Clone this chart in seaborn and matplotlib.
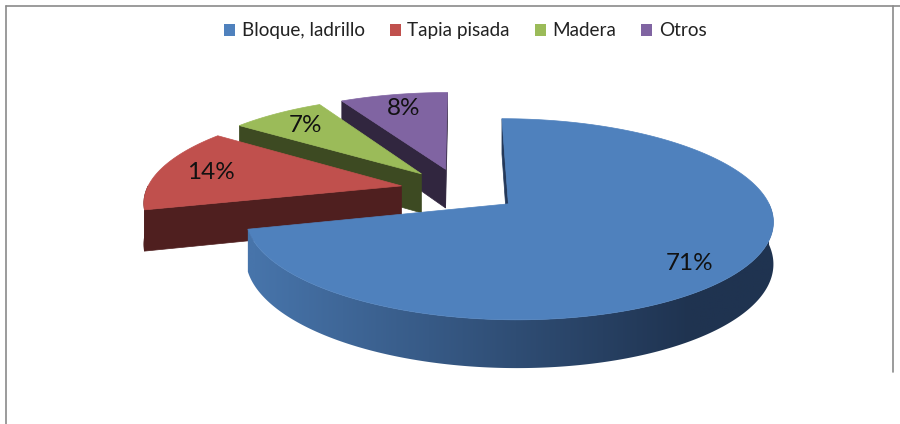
import numpy as np
import matplotlib
matplotlib.use("Agg")
import matplotlib.pyplot as plt
from matplotlib.patches import Polygon, Patch
from matplotlib.colors import to_rgb
import seaborn as sns

# ---- data ----
categories = ["Bloque, ladrillo", "Tapia pisada", "Madera", "Otros"]
values = [71, 14, 7, 8]
top_colors = ["#4f81bd", "#c0504d", "#9bbb59", "#8064a2"]
wall_colors = ["#24395a", "#4f1f1f", "#3d4a22", "#31263f"]

sns.set_theme(style="white")
plt.rcParams["font.family"] = ["Lato", "DejaVu Sans"]
palette = sns.color_palette(top_colors)

# ---- projection parameters (layout) ----
CX, CY = 460.0, 190.0
A, B = 255.0, 94.0
P = 0.15
E = 0.235
H = 40.0


def proj(u, v, h):
    s = 1.0 / (1.0 + P * v)
    return CX + A * u * s, CY - B * v * s + H * h * s


fig = plt.figure(figsize=(9, 4.24), dpi=100)
ax = fig.add_axes([0, 0, 1, 1])

# border
ax.plot([6, 6], [424, 6], color="#8a8a8a", lw=1.2)
ax.plot([6, 900], [6, 6], color="#8a8a8a", lw=1.2)
ax.plot([893, 893], [6, 372], color="#8a8a8a", lw=1.2)

total = float(sum(values))
bounds = np.concatenate([[0], np.cumsum(values)]) / total * 360.0
slices = []
for i in range(len(values)):
    a1, a2 = bounds[i], bounds[i + 1]
    mid = np.radians((a1 + a2) / 2)
    du, dv = E * np.sin(mid), E * np.cos(mid)
    slices.append((i, a1, a2, du, dv))


def pt(du, dv, phi_deg, r, h):
    p = np.radians(phi_deg)
    return proj(du + r * np.sin(p), dv + r * np.cos(p), h)


def area(poly):
    x = np.array([q[0] for q in poly]); y = np.array([q[1] for q in poly])
    return np.sum(x * np.roll(y, -1) - np.roll(x, -1) * y)


c_light = np.array(to_rgb("#4774aa"))
c_dark = np.array(to_rgb("#1f3350"))

order = [3, 2, 1, 0]
for idx in order:
    i, a1, a2, du, dv = slices[idx]
    apex_t = proj(du, dv, 0)
    apex_b = proj(du, dv, 1)
    # radial walls
    for phi, sign in ((a1, -1), (a2, 1)):
        quad = [apex_t, pt(du, dv, phi, 1, 0), pt(du, dv, phi, 1, 1), apex_b]
        ar = area(quad)
        if (sign < 0 and ar < 0) or (sign > 0 and ar > 0):
            ax.add_patch(Polygon(quad, closed=True, facecolor=wall_colors[i],
                                 edgecolor=wall_colors[i], lw=0.5))
    # curved outer wall (front-facing part)
    lo, hi = max(a1, 90), min(a2, 270)
    if hi > lo:
        phis = np.linspace(lo, hi, 300)
        wall = [pt(du, dv, p, 1, 0) for p in phis] + \
               [pt(du, dv, p, 1, 1) for p in phis[::-1]]
        if i == 0:
            xs = [q[0] for q in wall]; ys = [q[1] for q in wall]
            x0, x1 = min(xs) - 2, max(xs) + 2
            y0, y1 = min(ys) - 2, max(ys) + 2
            gx = np.linspace(x0, x1, 600)
            t = np.clip((gx - 255) / (690 - 255), 0, 1)[:, None]
            row = c_light + (c_dark - c_light) * t
            img = np.repeat(row[None, :, :], 4, axis=0)
            clip = Polygon(wall, closed=True, facecolor="none", edgecolor="none")
            ax.add_patch(clip)
            im = ax.imshow(img, extent=[x0, x1, y1, y0], aspect="auto",
                           interpolation="bilinear", zorder=1)
            im.set_clip_path(clip)
        else:
            ax.add_patch(Polygon(wall, closed=True, facecolor=wall_colors[i],
                                 edgecolor=wall_colors[i], lw=0.5))
    # top face
    phis = np.linspace(a1, a2, 300)
    poly = [apex_t] + [pt(du, dv, p, 1, 0) for p in phis]
    ax.add_patch(Polygon(poly, closed=True, facecolor=palette[i],
                         edgecolor=palette[i], lw=0.5, zorder=1.5))
    # label
    mid = (a1 + a2) / 2
    r_lab = 0.79 if i else 0.83
    lx, ly = pt(du, dv, mid + (4 if i == 0 else 0), r_lab, 0)
    ax.text(lx, ly, f"{values[i]}%", ha="center", va="center",
            fontsize=17.5, color="#111111", zorder=3)

ax.set_xlim(0, 900)
ax.set_ylim(424, 0)
ax.axis("off")

handles = [Patch(facecolor=palette[i], edgecolor="none") for i in range(len(values))]
fig.legend(handles, categories, loc="center", bbox_to_anchor=(0.517, 0.927),
           ncol=4, frameon=False, handlelength=0.6, handleheight=0.6,
           columnspacing=1.3, handletextpad=0.35, fontsize=13.6,
           labelcolor="#222222")

fig.savefig("out.png", dpi=100, facecolor="white")
